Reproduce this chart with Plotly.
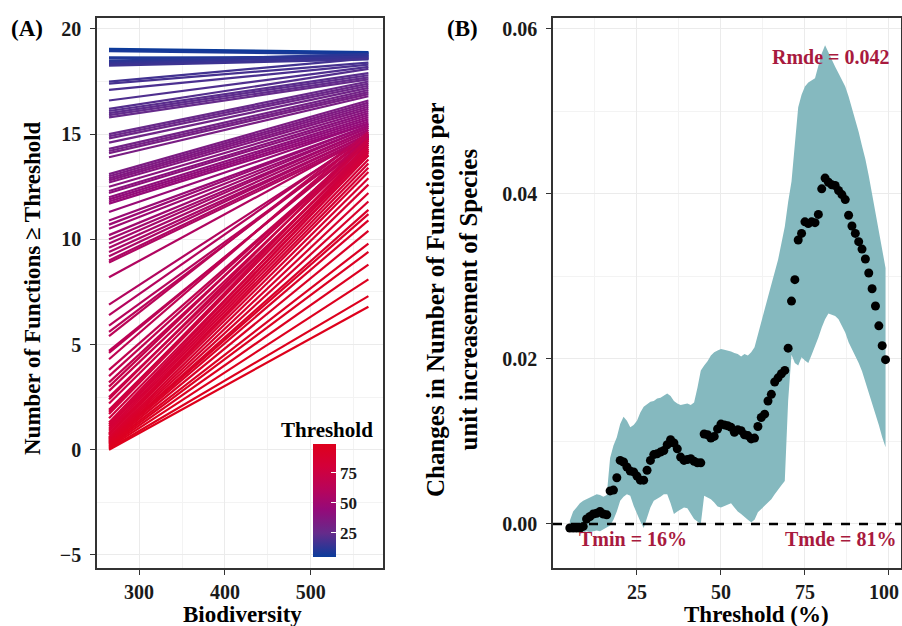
import plotly.graph_objects as go
from plotly.colors import sample_colorscale

# ---------------- data ----------------
thresholds = list(range(5, 100))

# Panel A: fitted number of functions >= threshold at the lowest / highest biodiversity
bio_low = 265
bio_high = 567
start_vals = [
    19.05, 19.0, 19.0, 18.95,
    18.65, 18.6, 18.5, 18.45, 18.4, 18.35, 18.3, 18.25,
    17.5, 17.4, 17.1, 16.6,
    16.2, 16.1, 16.0, 15.9, 15.8,
    15.0, 14.9, 14.8, 14.6, 14.3, 14.2, 14.1, 13.9,
    13.1, 13.0, 12.9, 12.8, 12.7,
    12.5, 12.3, 12.2, 12.0, 11.9, 11.8, 11.7,
    11.3, 10.9, 10.7, 10.5,
    10.2, 10.0, 9.8, 9.6, 9.4, 9.2, 9.0, 8.9,
    8.2,
    6.9, 6.4, 5.9, 5.6, 5.4, 4.7, 4.6, 4.3, 3.8, 3.5,
    3.2, 3.0, 2.8, 2.5, 2.4, 2.2, 1.9, 1.8, 1.7, 1.5, 1.3, 1.2,
    1.1, 1.0, 0.9, 0.8, 0.75, 0.7, 0.6, 0.55, 0.5, 0.45,
    0.4, 0.35, 0.3, 0.25, 0.2, 0.15, 0.1, 0.05, 0.0,
]
end_vals = [
    18.9, 18.88, 18.85, 18.8,
    18.6, 18.7, 18.75, 18.8, 18.7, 18.7, 18.6, 18.55,
    18.6, 18.4, 18.3, 18.2,
    18.1, 17.9, 17.8, 17.7, 17.6,
    17.5, 17.4, 17.3, 17.2, 17.1, 17.0, 16.9, 16.8,
    16.6, 16.5, 16.4, 16.3, 16.2,
    16.1, 16.0, 15.9, 15.8, 15.7, 15.6, 15.5,
    15.5, 15.4, 15.4, 15.3,
    15.3, 15.2, 15.2, 15.1, 15.0, 15.0, 14.9, 14.8,
    14.9,
    14.9, 15.0, 14.8, 14.9, 15.1, 14.7, 14.8, 15.0, 14.6, 14.7,
    14.6, 14.8, 14.5, 14.3, 14.7, 14.4, 14.2, 14.5, 14.3, 14.1, 14.2, 14.0,
    14.0, 13.8, 13.6, 13.4, 13.2, 12.9, 12.6, 12.2, 11.8, 11.4,
    11.2, 10.9, 10.4, 9.8, 9.4, 8.8, 8.1, 7.3, 6.8,
]

# Panel B: slope estimates and confidence band
slope_vals = [
    -0.0005, -0.0005, -0.0005, -0.0005, -0.0003, 0.0006, 0.0009, 0.0012, 0.0013, 0.0015,
    0.0012, 0.0011, 0.0040, 0.0041, 0.0056, 0.0077, 0.0075, 0.0069, 0.0064, 0.0063,
    0.0058, 0.0053, 0.0053, 0.0065, 0.0077, 0.0084, 0.0085, 0.0087, 0.0089, 0.0096,
    0.0102, 0.0098, 0.0091, 0.0081, 0.0077, 0.0078, 0.0079, 0.0076, 0.0074, 0.0074,
    0.0109, 0.0108, 0.0104, 0.0106, 0.0115, 0.0121, 0.0120, 0.0119, 0.0117, 0.0111,
    0.0114, 0.0113, 0.0108, 0.0107, 0.0103, 0.0104, 0.0118, 0.0129, 0.0133, 0.0149,
    0.0157, 0.0172, 0.0177, 0.0182, 0.0186, 0.0213, 0.0270, 0.0296, 0.0344, 0.0352,
    0.0366, 0.0364, 0.0366, 0.0365, 0.0375, 0.0406, 0.0419, 0.0414, 0.0411, 0.0410,
    0.0404, 0.0399, 0.0393, 0.0374, 0.0361, 0.0352, 0.0342, 0.0333, 0.0321, 0.0304,
    0.0285, 0.0264, 0.0240, 0.0216, 0.0199,
]
upper_vals = [
    0.0004, 0.0015, 0.0020, 0.0025, 0.0028, 0.0030, 0.0033, 0.0034, 0.0036, 0.0035,
    0.0033, 0.0035, 0.0080, 0.0095, 0.0105, 0.0121, 0.0130, 0.0125, 0.0117, 0.0120,
    0.0125, 0.0135, 0.0142, 0.0145, 0.0148, 0.0149, 0.0152, 0.0153, 0.0155, 0.0158,
    0.0155, 0.0149, 0.0146, 0.0144, 0.0145, 0.0146, 0.0144, 0.0147, 0.0165, 0.0186,
    0.0192, 0.0197, 0.0204, 0.0208, 0.0210, 0.0212, 0.0211, 0.0210, 0.0209, 0.0207,
    0.0206, 0.0203, 0.0206, 0.0204, 0.0208, 0.0214, 0.0230, 0.0245, 0.0260, 0.0275,
    0.0290, 0.0305, 0.0320, 0.0340, 0.0360, 0.0390, 0.0415, 0.0460, 0.0505, 0.0520,
    0.0530, 0.0535, 0.0538, 0.0540, 0.0555, 0.0570, 0.0580, 0.0572, 0.0562, 0.0554,
    0.0546, 0.0538, 0.0530, 0.0518, 0.0504, 0.0490, 0.0475, 0.0458, 0.0442, 0.0422,
    0.0400, 0.0378, 0.0356, 0.0333, 0.0310,
]
lower_vals = [
    -0.0006, -0.0008, -0.0009, -0.0010, -0.0010, -0.0009, -0.0010, -0.0009, -0.0008, -0.0009,
    -0.0007, -0.0005, -0.0002, 0.0005, 0.0015, 0.0028, 0.0033, 0.0036, 0.0034, 0.0022,
    0.0012, 0.0003, -0.0005, 0.0008, 0.0020, 0.0028, 0.0030, 0.0033, 0.0036, 0.0036,
    0.0025, 0.0012, 0.0015, 0.0018, 0.0020, 0.0019, 0.0012, 0.0006, 0.0003, 0.0000,
    0.0034, 0.0032, 0.0030, 0.0026, 0.0021, 0.0020, 0.0022, 0.0024, 0.0025, 0.0020,
    0.0015, 0.0012, 0.0008, 0.0005, 0.0002, 0.0005, 0.0014, 0.0018, 0.0022, 0.0026,
    0.0030, 0.0036, 0.0042, 0.0047, 0.0052, 0.0149, 0.0205, 0.0195, 0.0192, 0.0202,
    0.0198, 0.0195, 0.0205, 0.0215, 0.0226, 0.0238, 0.0248, 0.0255, 0.0253, 0.0252,
    0.0248, 0.0240, 0.0232, 0.0220, 0.0212, 0.0203, 0.0195, 0.0185, 0.0172, 0.0160,
    0.0148, 0.0135, 0.0120, 0.0105, 0.0093,
]

a_y_ticks = [-5, 0, 5, 10, 15, 20]
a_x_ticks = [300, 400, 500]
b_x_ticks = [25, 50, 75, 100]
b_y_ticks = [0, 0.02, 0.04, 0.06]
b_y_ticktext = ["0.00", "0.02", "0.04", "0.06"]
cbar_ticks = [25, 50, 75]

# ---------------- style ----------------
OFF = 0          # body margin removed by post_script below
W, H = 902, 626
FONT = "Liberation Serif"
ANN_RED = "#A81A3E"
RIBBON = "#85B9BF"
TICK_SIZE = 20
colorscale = [
    [0.0, "#0B3C9B"],
    [0.21, "#652B8B"],
    [0.42, "#950A79"],
    [0.6, "#B8045A"],
    [0.8, "#D3003A"],
    [1.0, "#DE001C"],
]
tmin, tmax = min(thresholds), max(thresholds)

a_xrange = [251, 584]
a_yrange = [-5.62, 20.52]
b_xrange = [0, 103.6]
b_yrange = [-0.00534, 0.0613]


def px(x):
    return (x - OFF) / W


def py(y):
    return 1 - (y - OFF) / H


fig = go.Figure()

# Panel A lines
for t, s, e in zip(thresholds, start_vals, end_vals):
    col = sample_colorscale(colorscale, [(t - tmin) / (tmax - tmin)])[0]
    fig.add_trace(go.Scatter(
        x=[bio_low, bio_high], y=[s, e], mode="lines",
        line=dict(color=col, width=2.2), xaxis="x", yaxis="y",
        showlegend=False, hoverinfo="skip"))

# colourbar holder
fig.add_trace(go.Scatter(
    x=[bio_low, bio_low], y=[start_vals[0], start_vals[0]], mode="markers",
    marker=dict(color=[tmin, tmax], colorscale=colorscale, cmin=tmin, cmax=tmax,
                opacity=0, size=1, showscale=True,
                colorbar=dict(x=px(313), xanchor="left", y=py(500.5), yanchor="middle",
                              len=113, lenmode="pixels", thickness=23, thicknessmode="pixels",
                              outlinewidth=0, tickvals=cbar_ticks, ticks="inside",
                              ticklen=5, tickcolor="white", tickwidth=1,
                              tickfont=dict(family=FONT, size=17, color="#1a1a1a", weight="bold"),
                              xpad=0, ypad=0, bgcolor="rgba(0,0,0,0)")),
    xaxis="x", yaxis="y", showlegend=False, hoverinfo="skip"))

# Panel B ribbon
fig.add_trace(go.Scatter(x=thresholds, y=lower_vals, mode="lines", line=dict(width=0, color=RIBBON),
                         xaxis="x2", yaxis="y2", showlegend=False, hoverinfo="skip"))
fig.add_trace(go.Scatter(x=thresholds, y=upper_vals, mode="lines", line=dict(width=0, color=RIBBON),
                         fill="tonexty", fillcolor=RIBBON,
                         xaxis="x2", yaxis="y2", showlegend=False, hoverinfo="skip"))
# zero reference line
fig.add_trace(go.Scatter(x=b_xrange, y=[0, 0], mode="lines",
                         line=dict(color="black", width=2.6, dash="dash"),
                         xaxis="x2", yaxis="y2", showlegend=False, hoverinfo="skip"))
# points
fig.add_trace(go.Scatter(x=thresholds, y=slope_vals, mode="markers",
                         marker=dict(color="black", size=9),
                         xaxis="x2", yaxis="y2", showlegend=False))

axis_common = dict(
    showline=True, mirror=True, linecolor="#333333", linewidth=1.6,
    ticks="outside", ticklen=5, tickwidth=1.2, tickcolor="#333333",
    showgrid=True, gridcolor="#EBEBEB", gridwidth=1.3, zeroline=False,
    tickfont=dict(family=FONT, size=TICK_SIZE, color="#1a1a1a", weight="bold"),
)

dom_y = [py(568), py(18)]
fig.update_layout(
    width=W, height=H,
    margin=dict(l=0, r=0, t=0, b=0),
    paper_bgcolor="white", plot_bgcolor="white",
    font=dict(family=FONT, size=19, color="black", weight="bold"),
    xaxis=dict(domain=[px(97), px(383)], range=a_xrange, tickvals=a_x_ticks,
               minor=dict(tick0=250, dtick=50, showgrid=True, gridcolor="#F3F3F3", gridwidth=0.8),
               anchor="y", **axis_common),
    yaxis=dict(domain=dom_y, range=a_yrange, tickvals=a_y_ticks, ticklabelstandoff=5,
               minor=dict(tick0=0, dtick=2.5, showgrid=True, gridcolor="#F3F3F3", gridwidth=0.8),
               anchor="x", **axis_common),
    xaxis2=dict(domain=[px(553), px(901)], range=b_xrange, tickvals=b_x_ticks,
                minor=dict(tick0=0, dtick=12.5, showgrid=True, gridcolor="#F3F3F3", gridwidth=0.8),
                anchor="y2", **axis_common),
    yaxis2=dict(domain=dom_y, range=b_yrange, tickvals=b_y_ticks, ticktext=b_y_ticktext,
                ticklabelstandoff=5,
                minor=dict(tick0=0, dtick=0.01, showgrid=True, gridcolor="#F3F3F3", gridwidth=0.8),
                anchor="x2", **axis_common),
    showlegend=False,
)


def ann(text, x, y, size, color="black", angle=0, xanchor="center"):
    fig.add_annotation(text=text, x=px(x), y=py(y), xref="paper", yref="paper",
                       showarrow=False, textangle=angle, xanchor=xanchor, yanchor="middle",
                       font=dict(family=FONT, size=size, color=color, weight="bold"))


ann("(A)", 27, 29, 23)
ann("(B)", 462, 29, 23)
ann("Number of Functions ≥ Threshold", 32, 288, 23, angle=-90)
ann("Biodiversity", 242, 614, 23)
ann("Threshold (%)", 756, 614, 23)
ann("Changes in Number of Functions per<br>unit increasement of Species", 452, 300, 25, angle=-90)
ann("Threshold", 327, 430, 21)
ann("Rmde = 0.042", 831, 57, 20, color=ANN_RED)
ann("Tmin = 16%", 577, 539, 20, color=ANN_RED, xanchor="left")
ann("Tmde = 81%", 783, 539, 20, color=ANN_RED, xanchor="left")

# the last x tick label of panel B sits at the page edge; draw it explicitly so it is not dropped
fig.add_annotation(text=str(b_x_ticks[-1]), x=b_x_ticks[-1], xref="x2", y=py(591.5), yref="paper",
                   showarrow=False, xanchor="center", yanchor="middle", xshift=-5,
                   font=dict(family=FONT, size=TICK_SIZE, color="#1a1a1a", weight="bold"))

fig.write_html("out.html",
               config={"displayModeBar": False},
               post_script="document.body.style.margin='0px';document.body.style.overflow='hidden';")
